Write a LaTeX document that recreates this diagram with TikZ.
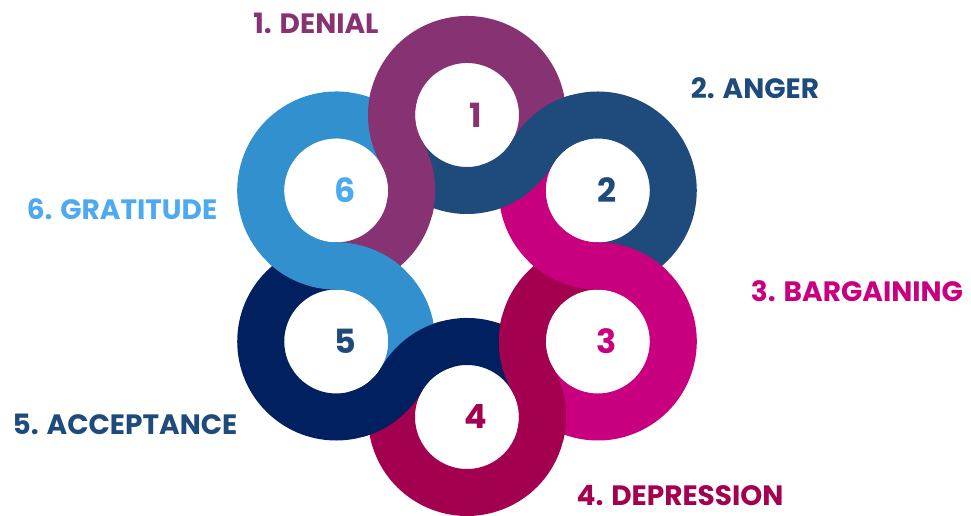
\documentclass[tikz,border=0pt]{standalone}
\usepackage{fontspec}
\setmainfont{Poppins}
\usetikzlibrary{positioning}
\definecolor{denial}{RGB}{135,50,115}
\definecolor{anger}{RGB}{31,74,124}
\definecolor{bargain}{RGB}{200,0,128}
\definecolor{depress}{RGB}{163,0,80}
\definecolor{accept}{RGB}{0,32,96}
\definecolor{gratitude}{RGB}{51,144,207}
\definecolor{gratitudetxt}{RGB}{77,170,240}

\begin{document}
\begin{tikzpicture}[x=0.75pt, y=0.75pt,
            band/.style={line width=35.25pt},
            stage/.style={font=\bfseries\fontsize{21}{25}\selectfont, inner sep=0pt},
            num/.style={font=\bfseries\fontsize{25}{30}\selectfont, inner sep=0pt, xshift=6.75pt}
        ]
        \useasboundingbox (0,0) rectangle (971,516);
        \coordinate (o) at (467,250);
        \path (o) ++(90:151) coordinate (c1);
        \path (o) ++(30:151) coordinate (c2);
        \path (o) ++(-30:151) coordinate (c3);
        \path (o) ++(-90:151) coordinate (c4);
        \path (o) ++(-150:151) coordinate (c5);
        \path (o) ++(150:151) coordinate (c6);
        % each ring with its tail round the ring before
        \draw[band, denial] (c1) ++(-30:75.5) arc[start angle=-30, end angle=210, radius=75.5] arc[start angle=30, end angle=-90, radius=75.5];
        \draw[band, anger] (c2) ++(-90:75.5) arc[start angle=-90, end angle=150, radius=75.5] arc[start angle=-30, end angle=-150, radius=75.5];
        \draw[band, bargain] (c3) ++(-150:75.5) arc[start angle=-150, end angle=90, radius=75.5] arc[start angle=-90, end angle=-210, radius=75.5];
        \draw[band, depress] (c4) ++(-210:75.5) arc[start angle=-210, end angle=30, radius=75.5] arc[start angle=-150, end angle=-270, radius=75.5];
        \draw[band, accept] (c5) ++(-270:75.5) arc[start angle=-270, end angle=-30, radius=75.5] arc[start angle=-210, end angle=-330, radius=75.5];
        \draw[band, gratitude] (c6) ++(30:75.5) arc[start angle=30, end angle=270, radius=75.5] arc[start angle=90, end angle=-30, radius=75.5];
        % crossings on top
        \draw[band, denial] (c1) ++(165:75.5) arc[start angle=165, end angle=210, radius=75.5] arc[start angle=30, end angle=-15, radius=75.5];
        \draw[band, anger] (c2) ++(105:75.5) arc[start angle=105, end angle=150, radius=75.5] arc[start angle=-30, end angle=-75, radius=75.5];
        \draw[band, bargain] (c3) ++(45:75.5) arc[start angle=45, end angle=90, radius=75.5] arc[start angle=-90, end angle=-135, radius=75.5];
        \draw[band, depress] (c4) ++(-15:75.5) arc[start angle=-15, end angle=30, radius=75.5] arc[start angle=-150, end angle=-195, radius=75.5];
        \draw[band, accept] (c5) ++(-75:75.5) arc[start angle=-75, end angle=-30, radius=75.5] arc[start angle=-210, end angle=-255, radius=75.5];
        \draw[band, gratitude] (c6) ++(225:75.5) arc[start angle=225, end angle=270, radius=75.5] arc[start angle=90, end angle=45, radius=75.5];
        % numbers
        \node[num, text=denial] (n1) at (c1) {1};
        \node[num, text=anger] (n2) at (c2) {2};
        \node[num, text=bargain] (n3) at (c3) {3};
        \node[num, text=depress] (n4) at (c4) {4};
        \node[num, text=anger] (n5) at (c5) {5};
        \node[num, text=gratitudetxt] (n6) at (c6) {6};
        % stage names
        \node[stage, text=denial] (denialname) at (316,493) {1. DENIAL};
        \node[stage, text=anger] (angername) at (755,428) {2. ANGER};
        \node[stage, text=bargain] (bargainname) at (857,225) {3. BARGAINING};
        \node[stage, text=depress] (depressname) at (680,20) {4. DEPRESSION};
        \node[stage, text=anger] (acceptname) at (125,92) {5. ACCEPTANCE};
        \node[stage, text=gratitudetxt] (gratitudename) at (122,307) {6. GRATITUDE};
        \end{tikzpicture}
\end{document}
